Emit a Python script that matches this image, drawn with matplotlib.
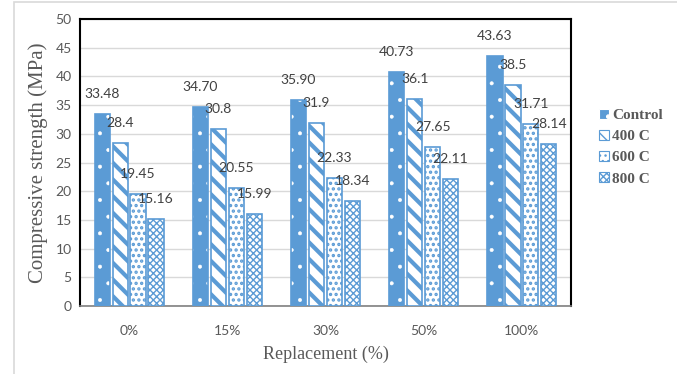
import matplotlib
matplotlib.use("Agg")
import matplotlib.pyplot as plt
from matplotlib.patches import Rectangle
import numpy as np

categories = ["0%", "15%", "30%", "50%", "100%"]
series_names = ["Control", "400 C", "600 C", "800 C"]
control = [33.48, 34.70, 35.90, 40.73, 43.63]
c400 = [28.4, 30.8, 31.9, 36.1, 38.5]
c600 = [19.45, 20.55, 22.33, 27.65, 31.71]
c800 = [15.16, 15.99, 18.34, 22.11, 28.14]
labels_control = ["33.48", "34.70", "35.90", "40.73", "43.63"]
labels_400 = ["28.4", "30.8", "31.9", "36.1", "38.5"]
labels_600 = ["19.45", "20.55", "22.33", "27.65", "31.71"]
labels_800 = ["15.16", "15.99", "18.34", "22.11", "28.14"]

blue = "#5B9BD5"
txt = "#595959"

fig = plt.figure(figsize=(6.77, 3.74), dpi=100)
ax = fig.add_axes([80/677, 1-306/374, 491/677, 287/374])

# outer chart frame
fig.patches.append(Rectangle((14/677, -0.1), 1.0, 1-2/374+0.1, transform=fig.transFigure,
                             fill=False, edgecolor="#d9d9d9", linewidth=1.2))

x = np.arange(len(categories))
step = 0.183
width = 0.155
series = [control, c400, c600, c800]
labels = [labels_control, labels_400, labels_600, labels_800]
styles = [
    dict(face=blue, hatch=".", hcolor="white", hlw=0.4),
    dict(face="white", hatch="\\\\", hcolor=blue, hlw=3.0),
    dict(face="white", hatch="...", hcolor=blue, hlw=1.6),
    dict(face="white", hatch="xxxxx", hcolor=blue, hlw=1.0),
]

handles = []
for i, (vals, st) in enumerate(zip(series, styles)):
    pos = x + (i - 1.5) * step
    with plt.rc_context({"hatch.linewidth": st["hlw"], "hatch.color": st["hcolor"]}):
        bars = ax.bar(pos, vals, width, color=st["face"], edgecolor=st["hcolor"],
                      hatch=st["hatch"], linewidth=0, zorder=3)
        for b in bars:
            if hasattr(b, "set_hatch_linewidth"):
                b.set_hatch_linewidth(st["hlw"])
        h = Rectangle((0, 0), 1, 1, facecolor=st["face"], edgecolor=st["hcolor"],
                      hatch=st["hatch"], linewidth=0.8)
        if hasattr(h, "set_hatch_linewidth"):
            h.set_hatch_linewidth(st["hlw"])
    # blue outline on each bar
    ax.bar(pos, vals, width, color="none", edgecolor=blue, linewidth=1.2, zorder=4)
    handles.append(h)
    for p, v, lab in zip(pos, vals, labels[i]):
        ax.annotate(lab, (p, v), xytext=(0, 20), textcoords="offset pixels",
                    ha="center", va="center", fontsize=10, color="#404040",
                    family="Lato", zorder=5)

ax.set_xlim(-0.5, 4.5)
ax.set_ylim(0, 50)
ax.set_yticks(range(0, 51, 5))
ax.set_xticks(x)
ax.set_xticklabels(categories)
ax.tick_params(length=0, labelsize=10, colors=txt, pad=6)
ax.tick_params(axis="x", pad=14)
for t in ax.get_xticklabels() + ax.get_yticklabels():
    t.set_family("Lato")
ax.yaxis.grid(True, color="#d9d9d9", linewidth=1, zorder=0)
ax.set_axisbelow(True)

for side in ["left", "top", "right"]:
    ax.spines[side].set_color("black")
    ax.spines[side].set_linewidth(1.5)
ax.spines["bottom"].set_color("#808080")
ax.spines["bottom"].set_linewidth(1.2)

ax.set_ylabel("Compressive strength (MPa)", family="Liberation Serif", fontsize=15,
              color=txt, labelpad=5)
ax.set_xlabel("Replacement (%)", family="Liberation Serif", fontsize=13,
              color=txt, labelpad=6)

leg = fig.legend(handles, series_names, loc="upper left", bbox_to_anchor=(585/677, 1-95/374),
                 frameon=False, handlelength=0.65, handleheight=0.65, handletextpad=0.25,
                 labelspacing=0.5, prop={"family": "Liberation Serif", "weight": "bold", "size": 11})
for t in leg.get_texts():
    t.set_color(txt)

fig.savefig("out.png", dpi=100)
